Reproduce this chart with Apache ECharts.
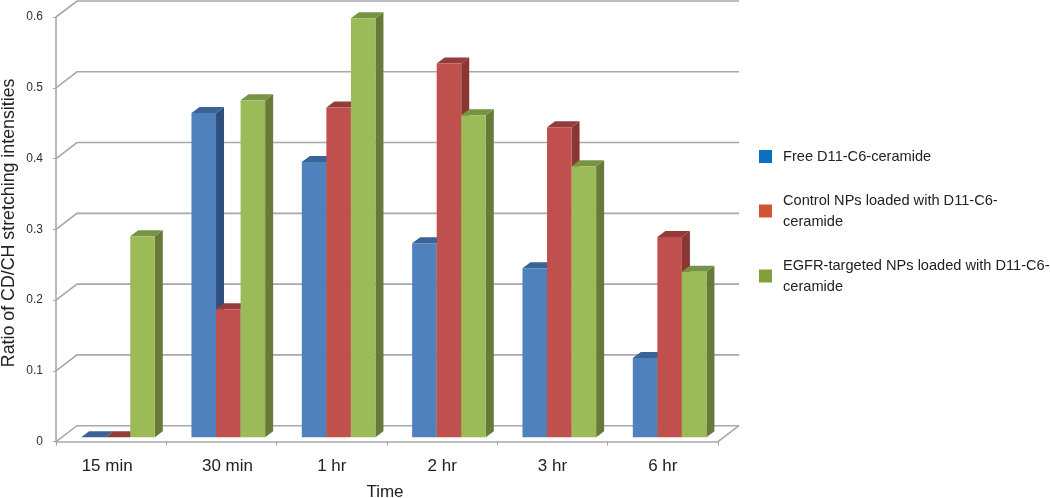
<!DOCTYPE html>
<html><head><meta charset="utf-8">
<style>html,body{margin:0;padding:0;background:#fff}#c{width:1050px;height:498px}</style>
<script src="https://cdn.jsdelivr.net/npm/echarts@6/dist/echarts.min.js"></script>
</head><body><div id="c"></div>
<script>
const categories = ['15 min','30 min','1 hr','2 hr','3 hr','6 hr'];
const yTicks = [0,0.1,0.2,0.3,0.4,0.5,0.6];
const seriesNames = ['Free D11-C6-ceramide','Control NPs loaded with D11-C6-\nceramide','EGFR-targeted NPs loaded with D11-C6-\nceramide'];
const freeValues = [0,0.458,0.389,0.274,0.239,0.112];
const controlValues = [0,0.181,0.466,0.528,0.438,0.283];
const egfrValues = [0.284,0.476,0.592,0.455,0.383,0.234];

const legendColors = ['#0a70c2','#d05433','#84a03d'];
const faces = ['#4f81bd','#c0504d','#9bbb59'];
const tops = ['#3b6496','#943c39','#769444'];
const sides = ['#2f4f7d','#8a3634','#667a3a'];
const allValues = [freeValues,controlValues,egfrValues];
const wall = {dx:21,dy:-16};
const bar = {ox:6.8,oy:-4.4,dx:8,dy:-6,w:0.2225};
const gridCol = '#a8a8a8';

function barSeries(s){
  return {
    type:'custom',name:seriesNames[s],z:5,clip:false,
    itemStyle:{color:legendColors[s]},
    data:categories.map((c,i)=>[i,allValues[s][i]]),
    encode:{x:0,y:1},
    renderItem:function(params,api){
      const p=api.coord([api.value(0),api.value(1)]);
      const b=api.coord([api.value(0),0]);
      const w=api.size([1,0])[0]*bar.w;
      const x0=p[0]+bar.ox+(s-1.5)*w, x1=x0+w;
      const yT=p[1]+bar.oy, yB=b[1]+bar.oy;
      const d=[bar.dx,bar.dy];
      return {type:'group',children:[
        {type:'polygon',shape:{points:[[x1,yT],[x1+d[0],yT+d[1]],[x1+d[0],yB+d[1]],[x1,yB]]},style:{fill:sides[s]}},
        {type:'polygon',shape:{points:[[x0,yT],[x0+d[0],yT+d[1]],[x1+d[0],yT+d[1]],[x1,yT]]},style:{fill:tops[s]}},
        {type:'rect',shape:{x:x0,y:yT,width:w,height:yB-yT},style:{fill:faces[s]}}
      ]};
    }
  };
}
const wallSeries = {
  type:'custom',name:'wall',z:1,silent:true,clip:false,
  data:yTicks.map(v=>[0,v]),encode:{x:0,y:1},
  renderItem:function(params,api){
    const y=api.coord([0,api.value(1)])[1];
    const cs=params.coordSys, xL=cs.x, xR=cs.x+cs.width;
    const style={stroke:gridCol,lineWidth:1.6,fill:null};
    const kids=[{type:'polyline',shape:{points:[[xL,y],[xL+wall.dx,y+wall.dy],[xR+wall.dx,y+wall.dy]]},style}];
    if(api.value(1)===0) kids.push({type:'line',shape:{x1:xR,y1:y,x2:xR+wall.dx,y2:y+wall.dy},style});
    return {type:'group',children:kids};
  }
};
const chart=echarts.init(document.getElementById('c'),null,{renderer:'canvas'});
chart.setOption({
  animation:false,backgroundColor:'#fff',
  grid:{left:56,top:17,width:662,height:424.7,containLabel:false,outerBoundsMode:'none'},
  xAxis:{type:'category',
    data:categories.map((c,i)=>i===0?{value:c,textStyle:{padding:[0,8,0,0]}}:i===1?{value:c,textStyle:{padding:[0,0,0,12]}}:c),
    name:'Time',nameLocation:'middle',nameGap:42,nameMoveOverlap:false,
    nameTextStyle:{fontFamily:'Liberation Sans',fontSize:17,color:'#222',padding:[0,0,0,-4]},
    axisLine:{lineStyle:{color:gridCol,width:1.6}},
    axisTick:{show:true,alignWithLabel:false,length:4,lineStyle:{color:gridCol,width:1}},
    axisLabel:{fontFamily:'Liberation Sans',fontSize:17,color:'#222',margin:16,interval:0},
    splitLine:{show:false}},
  yAxis:{type:'value',min:0,max:0.6,interval:0.1,
    name:'Ratio of CD/CH stretching intensities',nameLocation:'middle',nameGap:38,nameMoveOverlap:false,
    nameTextStyle:{fontFamily:'Liberation Sans',fontSize:17.8,color:'#222',padding:[0,0,0,13]},
    axisLine:{show:true,lineStyle:{color:gridCol,width:1.6}},
    axisTick:{show:true,length:3,lineStyle:{color:gridCol,width:1}},
    axisLabel:{fontFamily:'Liberation Sans',fontSize:12,color:'#26324a',margin:13},
    splitLine:{show:false}},
  legend:{orient:'vertical',left:759,top:146,itemWidth:13,itemHeight:13,itemGap:23,
    data:seriesNames,icon:'rect',selectedMode:false,
    textStyle:{fontFamily:'Liberation Sans',fontSize:14.6,color:'#222',lineHeight:21,padding:[0,0,0,6]},padding:0},
  series:[wallSeries,barSeries(0),barSeries(1),barSeries(2)]
});
</script></body></html>
